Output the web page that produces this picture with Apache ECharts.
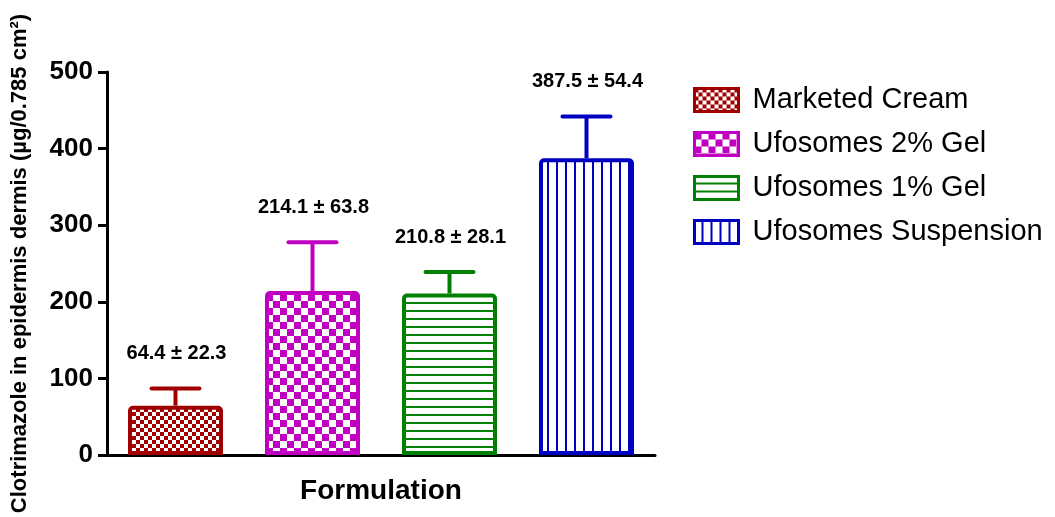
<!DOCTYPE html>
<html>
<head>
<meta charset="utf-8">
<script src="https://cdn.jsdelivr.net/npm/echarts@6/dist/echarts.min.js"></script>
<style>
  html, body { margin: 0; padding: 0; background: #fff; }
  #chart { width: 1055px; height: 517px; }
</style>
</head>
<body>
<div id="chart"></div>
<script>
// Formulations and measured amounts (mean ± SD)
const categories = ['Marketed Cream', 'Ufosomes 2% Gel', 'Ufosomes 1% Gel', 'Ufosomes Suspension'];
const means = [64.4, 214.1, 210.8, 387.5];
const sds = [22.3, 63.8, 28.1, 54.4];
const colors = ['#A00000', '#C000C0', '#008000', '#0000C0'];
const yTicks = [0, 100, 200, 300, 400, 500];

const FONT = '"Liberation Sans", Arial, sans-serif';

// Fill patterns for each bar
function makeCanvas(w, h) {
  const c = document.createElement('canvas');
  c.width = w; c.height = h;
  return c;
}
function checker(color, cell) {
  const c = makeCanvas(cell * 2, cell * 2);
  const g = c.getContext('2d');
  g.fillStyle = '#fff'; g.fillRect(0, 0, cell * 2, cell * 2);
  g.fillStyle = color;
  g.fillRect(0, 0, cell, cell);
  g.fillRect(cell, cell, cell, cell);
  return c;
}
function hLines(color, gap, thick) {
  const c = makeCanvas(4, gap);
  const g = c.getContext('2d');
  g.fillStyle = '#fff'; g.fillRect(0, 0, 4, gap);
  g.fillStyle = color; g.fillRect(0, gap - thick, 4, thick);
  return c;
}
function vLines(color, gap, thick) {
  const c = makeCanvas(gap, 4);
  const g = c.getContext('2d');
  g.fillStyle = '#fff'; g.fillRect(0, 0, gap, 4);
  g.fillStyle = color; g.fillRect(gap - thick, 0, thick, 4);
  return c;
}
const patterns = [
  checker(colors[0], 4),
  checker(colors[1], 7),
  hLines(colors[2], 8, 2),
  vLines(colors[3], 9, 2)
];

const barSeries = categories.map((name, i) => ({
  name: name,
  type: 'bar',
  stack: 'bars',
  barWidth: 95,
  data: categories.map((_, j) => (j === i ? means[i] : '-')),
  itemStyle: {
    color: { image: patterns[i], repeat: 'repeat' },
    borderColor: colors[i],
    borderWidth: 4,
    borderRadius: [3, 3, 0, 0]
  },
  emphasis: { disabled: true },
  z: 2
}));

// Upper error bars with mean ± SD labels
const errorData = categories.map((_, i) => [i, means[i], sds[i]]);
const errorSeries = {
  type: 'custom',
  name: 'error',
  data: errorData,
  z: 3,
  renderItem: function (params, api) {
    const i = api.value(0);
    const m = api.value(1);
    const s = api.value(2);
    const base = api.coord([i, m]);
    const top = api.coord([i, m + s]);
    const capHalf = 24;
    const c = colors[i];
    return {
      type: 'group',
      children: [
        { type: 'line', shape: { x1: base[0], y1: base[1], x2: top[0], y2: top[1] },
          style: { stroke: c, lineWidth: 4 } },
        { type: 'line', shape: { x1: top[0] - capHalf, y1: top[1], x2: top[0] + capHalf, y2: top[1] },
          style: { stroke: c, lineWidth: 4, lineCap: 'round' } },
        { type: 'text', x: top[0] + 1, y: top[1] - 35,
          style: { text: m.toFixed(1) + ' ± ' + s.toFixed(1), fill: '#000',
                   font: 'bold 20px ' + FONT, align: 'center', verticalAlign: 'middle' } }
      ]
    };
  }
};

const chart = echarts.init(document.getElementById('chart'));
chart.setOption({
  animation: false,
  backgroundColor: '#fff',
  grid: { left: 107, right: 400, top: 72, bottom: 62, containLabel: false },
  legend: {
    data: categories,
    orient: 'vertical',
    left: 688,
    top: 80,
    itemWidth: 44,
    itemHeight: 23,
    itemGap: 14,
    icon: 'rect',
    selectedMode: false,
    itemStyle: { borderWidth: 3 },
    textStyle: { fontFamily: FONT, fontSize: 29, lineHeight: 30, color: '#000', padding: [0, 0, 0, 9] }
  },
  xAxis: {
    type: 'category',
    data: categories,
    name: 'Formulation',
    nameLocation: 'middle',
    nameGap: 22,
    nameTextStyle: { fontFamily: FONT, fontSize: 28, fontWeight: 'bold', color: '#000' },
    axisLine: { lineStyle: { color: '#000', width: 3 } },
    axisTick: { alignWithLabel: true, length: 9, lineStyle: { color: '#000', width: 3 } },
    axisLabel: { show: false },
    splitLine: { show: false }
  },
  yAxis: {
    type: 'value',
    min: yTicks[0],
    max: yTicks[yTicks.length - 1],
    interval: 100,
    name: 'Clotrimazole in epidermis dermis (µg/0.785 cm²)',
    nameLocation: 'middle',
    nameRotate: 90,
    nameGap: 76,
    nameTextStyle: { fontFamily: FONT, fontSize: 22, fontWeight: 'bold', color: '#000' },
    axisLine: { show: true, lineStyle: { color: '#000', width: 3 } },
    axisTick: { show: true, length: 9, lineStyle: { color: '#000', width: 3 } },
    axisLabel: { fontFamily: FONT, fontSize: 26, fontWeight: 'bold', color: '#000', margin: 14 },
    splitLine: { show: false }
  },
  series: [...barSeries, errorSeries]
});
</script>
</body>
</html>
